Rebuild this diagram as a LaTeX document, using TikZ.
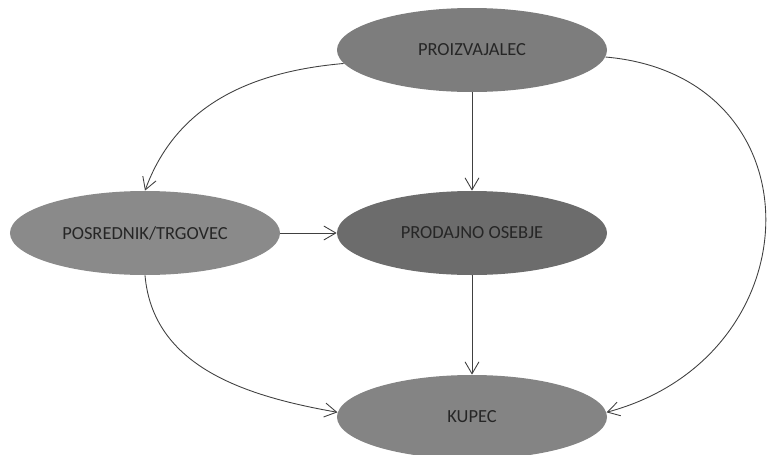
\documentclass[tikz,border=0pt]{standalone}
\usepackage{fontspec}
\setmainfont{Carlito}
\usetikzlibrary{shapes.geometric,arrows.meta}
\definecolor{ptop}{RGB}{125,125,125}
\definecolor{pleft}{RGB}{138,138,138}
\definecolor{pmid}{RGB}{108,108,108}
\definecolor{pbot}{RGB}{132,132,132}
\begin{document}
\begin{tikzpicture}[main/.style = {ellipse, inner sep=0pt, minimum width=5.4cm, minimum height=1.68cm, text=black!85, font=\fontsize{10.5}{12}\selectfont},
		arr/.style = {draw=black!75, line width=0.5pt, -{Straight Barb[length=0.24cm, width=0.28cm]}}]
			\useasboundingbox (0,0) rectangle (15.38,9.08);
			\node[main, fill = ptop] (1) at (9.44,8.08) {PROIZVAJALEC};
			\node[main, fill = pleft] (2) at (2.90,4.42) {POSREDNIK/TRGOVEC};
			\node[main, fill = pmid] (3) at (9.44,4.42) {PRODAJNO OSEBJE};
			\node[main, fill = pbot] (4) at (9.44,0.74) {KUPEC};
			\draw[arr] (1) -- (3);
			\draw[arr] (2) -- (3);
			\draw[arr] (3) -- (4);
			\draw[arr] (1.186) to[out=185, in=70] (2.north);
			\draw[arr] (1.-3) to[out=-5, in=15, looseness=1.56] (4.2);
			\draw[arr] (2.south) to[out=-85, in=170] (4.178);
		\end{tikzpicture}
\end{document}
